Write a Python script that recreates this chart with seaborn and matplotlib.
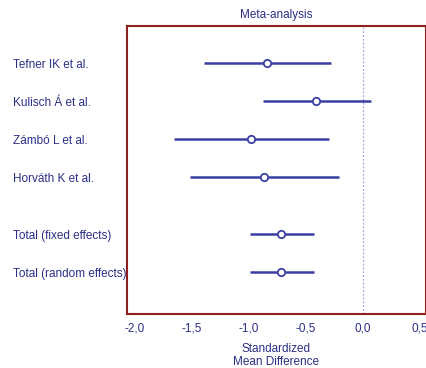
import numpy as np
import pandas as pd
import seaborn as sns
import matplotlib.pyplot as plt

# Study data (standardized mean difference with 95% CI)
studies = ['Tefner IK et al.', 'Kulisch Á et al.', 'Zámbó L et al.', 'Horváth K et al.',
           'Total (fixed effects)', 'Total (random effects)']
row_pos = [0, 1, 2, 3, 4.5, 5.5]
smd = [-0.84, -0.41, -0.985, -0.87, -0.72, -0.72]
ci_low = [-1.39, -0.88, -1.66, -1.52, -0.99, -0.99]
ci_high = [-0.28, 0.075, -0.295, -0.21, -0.43, -0.43]
x_ticks = [-2.0, -1.5, -1.0, -0.5, 0.0, 0.5]
x_tick_labels = ['-2,0', '-1,5', '-1,0', '-0,5', '0,0', '0,5']

df = pd.DataFrame({'study': studies, 'pos': row_pos, 'smd': smd,
                   'low': ci_low, 'high': ci_high})

sns.set_style('white')
plt.rcParams['font.family'] = ['Liberation Sans', 'DejaVu Sans']

line_col = '#3b3fa3'
text_col = '#2b2f86'
frame_col = '#8e1f1f'

fig = plt.figure(figsize=(4.27, 3.68), dpi=100)
ax = fig.add_axes([0.297, 0.147, 0.701, 0.782])

# confidence intervals
ax.hlines(df['pos'], df['low'], df['high'], color=line_col, lw=1.8, zorder=2)
# point estimates
sns.scatterplot(data=df, x='smd', y='pos', ax=ax, s=28, marker='o',
                facecolor='white', edgecolor=line_col, linewidth=1.3, zorder=3)

# line of no effect
ax.axvline(0, color='#a3a8d8', lw=0.9, ls=(0, (1.5, 1.5)), zorder=1)

ax.set_xlim(-2.07, 0.555)
ax.set_ylim(6.6, -0.97)

ax.set_xticks(x_ticks)
ax.set_xticklabels(x_tick_labels, color=text_col, fontsize=8.5)
ax.tick_params(axis='x', direction='in', length=5, width=1.2, color=frame_col, pad=6)

ax.set_yticks(row_pos)
ax.set_yticklabels(studies, color=text_col, fontsize=8.5, ha='left')
ax.tick_params(axis='y', length=0, pad=82)

ax.set_xlabel('Standardized\nMean Difference', color=text_col, fontsize=8.5, labelpad=6,
              linespacing=1.2)
ax.set_ylabel('')
ax.set_title('Meta-analysis', color=text_col, fontsize=8.5, pad=6)

for side in ['left', 'bottom', 'top', 'right']:
    ax.spines[side].set_color(frame_col)
    ax.spines[side].set_linewidth(1.5)
    ax.spines[side].set_visible(True)

fig.savefig('out.png', dpi=100)
